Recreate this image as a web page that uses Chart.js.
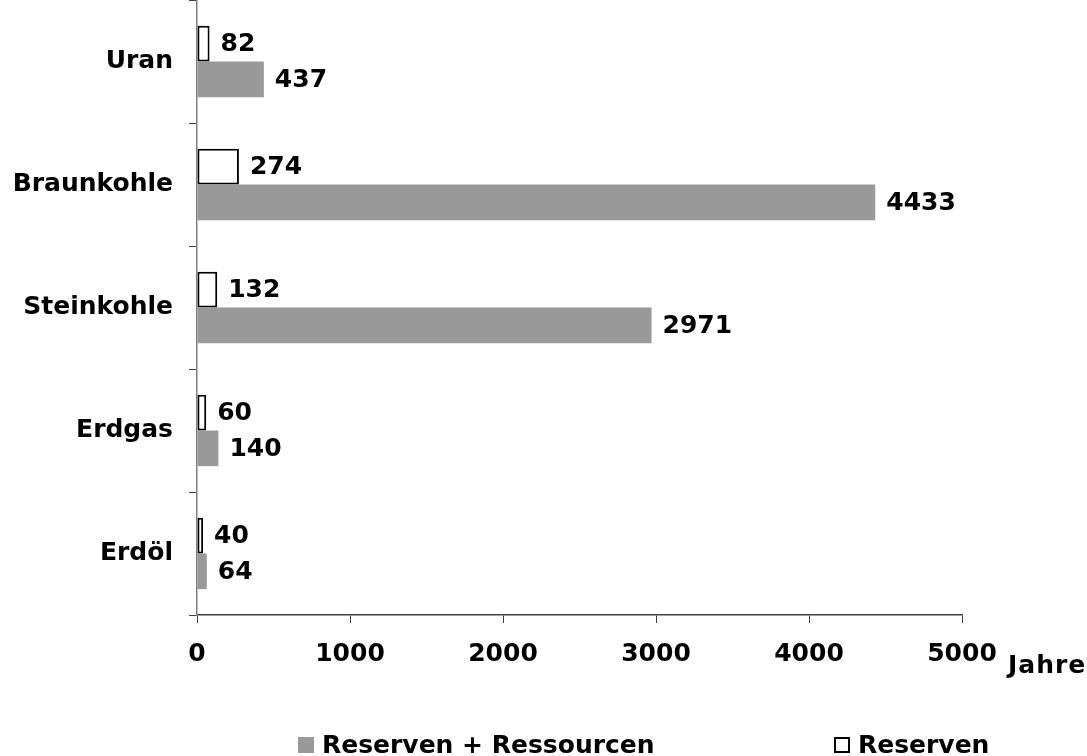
<!DOCTYPE html>
<html>
<head>
<meta charset="utf-8">
<script src="https://cdn.jsdelivr.net/npm/chart.js@4"></script>
<style>
  html, body { margin: 0; padding: 0; background: #fff; overflow: hidden; }
  #wrap { position: relative; width: 1087px; height: 756px; }
  #c { position: absolute; left: 0; top: 0; }
  .txt { position: absolute; font-family: "DejaVu Sans", Verdana, sans-serif; font-weight: bold; font-size: 25px; line-height: 25px; color: #000; white-space: nowrap; }
  .box { position: absolute; width: 16px; height: 16px; box-sizing: border-box; }
</style>
</head>
<body>
<div id="wrap">
  <canvas id="c" width="1087" height="756"></canvas>
  <div class="txt" style="left:1008px; top:652px; letter-spacing:1px;">Jahre</div>
  <div class="box" style="left:298px; top:737px; background:#999999;"></div>
  <div class="txt" style="left:322px; top:732px;">Reserven + Ressourcen</div>
  <div class="box" style="left:834px; top:737px; background:#fff; border:2px solid #000;"></div>
  <div class="txt" style="left:858px; top:732px;">Reserven</div>
</div>
<script>
const categories = ['Uran', 'Braunkohle', 'Steinkohle', 'Erdgas', 'Erdöl'];
const reserven = [82, 274, 132, 60, 40];
const reservenRessourcen = [437, 4433, 2971, 140, 64];
const xTickValues = [0, 1000, 2000, 3000, 4000, 5000];

const FONT = { family: '"DejaVu Sans", Verdana, sans-serif', weight: 'bold', size: 25 };

const valueLabels = {
  id: 'valueLabels',
  afterDatasetsDraw(chart) {
    const ctx = chart.ctx;
    ctx.save();
    ctx.font = 'bold 25px "DejaVu Sans", Verdana, sans-serif';
    ctx.fillStyle = '#000';
    ctx.textAlign = 'left';
    ctx.textBaseline = 'middle';
    chart.data.datasets.forEach((ds, di) => {
      const meta = chart.getDatasetMeta(di);
      meta.data.forEach((el, i) => {
        ctx.fillText(String(ds.data[i]), el.x + 11, el.y + 1);
      });
    });
    ctx.restore();
  }
};

new Chart(document.getElementById('c'), {
  type: 'bar',
  data: {
    labels: categories,
    datasets: [
      {
        label: 'Reserven',
        data: reserven,
        backgroundColor: '#ffffff',
        borderColor: '#000000',
        borderWidth: 2,
        borderSkipped: false,
        categoryPercentage: 0.58,
        barPercentage: 1.0
      },
      {
        label: 'Reserven + Ressourcen',
        data: reservenRessourcen,
        backgroundColor: '#999999',
        borderWidth: 0,
        categoryPercentage: 0.58,
        barPercentage: 1.0
      }
    ]
  },
  options: {
    indexAxis: 'y',
    responsive: false,
    animation: false,
    devicePixelRatio: 1,
    layout: { padding: { left: 0, right: 125, top: 0, bottom: 0 } },
    plugins: {
      legend: { display: false },
      tooltip: { enabled: false }
    },
    scales: {
      x: {
        min: 0,
        max: 5000,
        afterBuildTicks: (s) => { s.ticks = xTickValues.map(v => ({ value: v })); },
        afterFit: (s) => { s.height = 141; s.paddingLeft = 0; s.paddingRight = 0; },
        ticks: { font: FONT, color: '#000', padding: 16, maxRotation: 0, callback: (v) => String(v) },
        grid: { drawOnChartArea: false, drawTicks: true, tickLength: 8, color: '#404040', lineWidth: 1 },
        border: { display: true, color: '#404040', width: 1.5 }
      },
      y: {
        afterFit: (s) => { s.width = 197; s.paddingTop = 0; s.paddingBottom = 0; },
        ticks: { font: FONT, color: '#000', padding: 16 },
        grid: { offset: true, drawOnChartArea: false, drawTicks: true, tickLength: 8, color: '#404040', lineWidth: 1 },
        border: { display: true, color: '#808080', width: 1.5 }
      }
    }
  },
  plugins: [valueLabels]
});
</script>
</body>
</html>
